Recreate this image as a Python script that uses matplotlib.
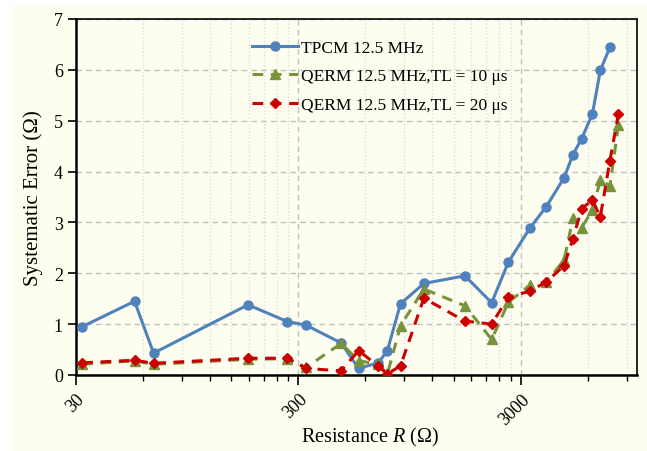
import numpy as np
import matplotlib
matplotlib.use("Agg")
import matplotlib.pyplot as plt
from matplotlib.patches import Rectangle
from matplotlib.ticker import FixedLocator, NullFormatter

plt.rcParams["font.family"] = ["Liberation Serif", "DejaVu Serif"]
plt.rcParams["mathtext.fontset"] = "custom"
plt.rcParams["mathtext.rm"] = "Liberation Serif"
plt.rcParams["mathtext.it"] = "Liberation Serif:italic"

# сопротивления (Ом)
r = [32, 55, 67, 178, 268, 325, 467, 560, 687, 754, 864, 1100, 1684, 2220,
     2640, 3300, 3910, 4700, 5150, 5640, 6300, 6840, 7550, 8250]

tpcm = [0.95, 1.45, 0.43, 1.38, 1.05, 0.98, 0.63, 0.13, 0.24, 0.48, 1.40,
        1.80, 1.95, 1.42, 2.22, 2.89, 3.31, 3.88, 4.33, 4.65, 5.13, 5.99, 6.44]
qerm10 = [0.21, 0.28, 0.21, 0.31, 0.32, 0.15, 0.62, 0.28, 0.21, 0.02, 0.97,
          1.69, 1.36, 0.70, 1.43, 1.77, 1.83, 2.26, 3.08, 2.90, 3.24, 3.83, 3.72, 4.91]
qerm20 = [0.24, 0.29, 0.23, 0.33, 0.33, 0.13, 0.08, 0.48, 0.17, 0.02, 0.18,
          1.51, 1.06, 1.00, 1.53, 1.65, 1.83, 2.15, 2.68, 3.27, 3.44, 3.11, 4.21, 5.13]

labels = ["TPCM 12.5 MHz", "QERM 12.5 MHz,TL = 10 μs", "QERM 12.5 MHz,TL = 20 μs"]

fig = plt.figure(figsize=(6.47, 4.52), dpi=100, facecolor="white")
fig.patches.append(Rectangle((11 / 647, 0), 1, 1 - 6 / 452, transform=fig.transFigure,
                             facecolor="#fefef0", edgecolor="none", zorder=-10))
ax = fig.add_axes([76 / 647, 1 - 376 / 452, 561 / 647, 356 / 452])
ax.set_facecolor("#fefef0")

ax.plot(r[:len(tpcm)], tpcm, "-o", color="#4f81bd", lw=2.2, ms=6.5, label=labels[0], zorder=3)
ax.plot(r, qerm10, "--^", color="#77933c", lw=2.2, ms=6.5, label=labels[1], zorder=4,
        dashes=(3.5, 2.5))
ax.plot(r, qerm20, "--D", color="#cc0000", lw=2.2, ms=5, label=labels[2], zorder=5,
        dashes=(3.5, 2.5))

ax.set_xscale("log")
ax.set_xlim(30, 10000)
ax.set_ylim(0, 7)
ax.xaxis.set_major_locator(FixedLocator([30, 300, 3000]))
ax.xaxis.set_minor_locator(FixedLocator(list(range(60, 300, 30)) + list(range(600, 3000, 300))
                                        + list(range(6000, 10000, 3000))))
ax.xaxis.set_minor_formatter(NullFormatter())
ax.set_xticklabels(["30", "300", "3000"], rotation=45, fontsize=13,
                   ha="right", rotation_mode="anchor")
ax.set_yticks(range(8))
ax.tick_params(axis="y", labelsize=13, length=6, width=1.2, direction="out")
ax.tick_params(axis="x", which="major", length=7, width=1.2, direction="out", pad=4)
ax.tick_params(axis="x", which="minor", length=4, width=1, direction="out")

ax.grid(axis="y", which="major", ls=(0, (4, 3)), color="#c0c0c0", lw=1)
ax.grid(axis="x", which="major", ls=(0, (4, 3)), color="#c0c0c0", lw=1)
ax.grid(axis="x", which="minor", ls=(0, (1, 1.5)), color="#dcdcdc", lw=1)
ax.set_axisbelow(True)

for s in ["left", "bottom"]:
    ax.spines[s].set_linewidth(1.8)
for s in ["top", "right"]:
    ax.spines[s].set_linewidth(1.2)

ax.set_ylabel("Systematic Error (Ω)", fontsize=15, labelpad=8)
ax.set_xlabel("Resistance $\\mathit{R}$ (Ω)", fontsize=14.5)
ax.xaxis.set_label_coords(0.524, -0.14)

leg = ax.legend(loc="upper left", bbox_to_anchor=(0.285, 0.985), frameon=False, fontsize=12.5,
                handlelength=2.7, labelspacing=0.7, handletextpad=0.15)

fig.savefig("out.png", dpi=100, facecolor=fig.get_facecolor())
